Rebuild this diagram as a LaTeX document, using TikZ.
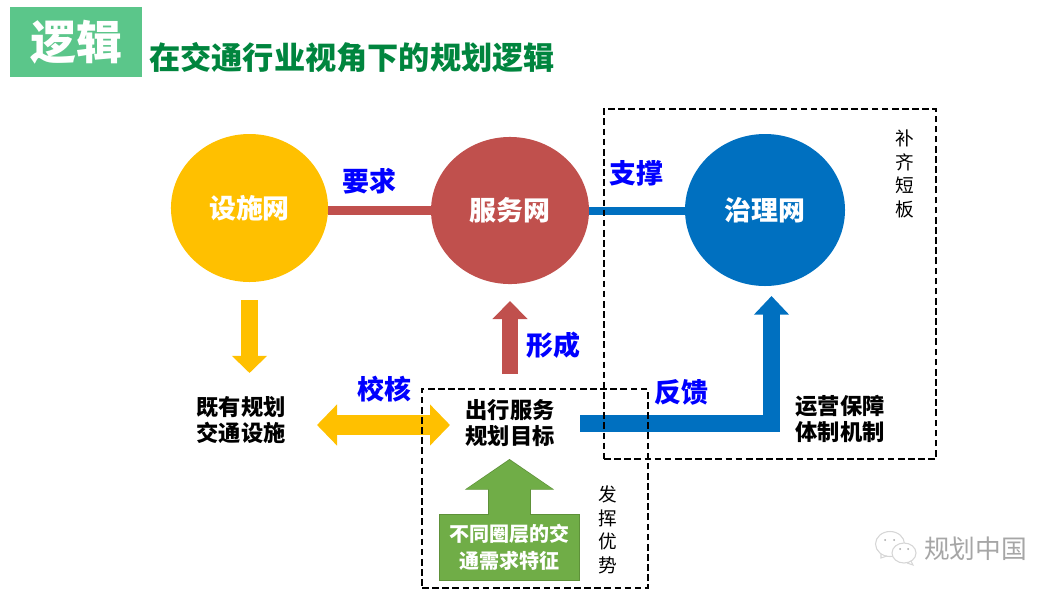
\documentclass[tikz,border=0pt]{standalone}
\usepackage{fontspec}
\setmainfont{Noto Sans CJK SC}
\usetikzlibrary{shapes.geometric,arrows.meta}
\usetikzlibrary{positioning}
\definecolor{tagGreen}{HTML}{5BC68A}
\definecolor{titleGreen}{HTML}{00853E}
\definecolor{netYellow}{HTML}{FFC000}
\definecolor{netRed}{HTML}{C0504D}
\definecolor{netBlue}{HTML}{0070C0}
\definecolor{baseGreen}{HTML}{70AD47}
\definecolor{baseEdge}{HTML}{5E9139}
\definecolor{markGray}{HTML}{A6A6A6}
\definecolor{iconGray}{HTML}{D6D6D6}

\begin{document}
\begin{tikzpicture}[x=.75pt,y=-.75pt]
 \useasboundingbox (0,0) rectangle (1062,597);

 \tikzstyle{net} = [ellipse, inner sep=0, text=white, font=\fontsize{20.2}{24}\selectfont\bfseries];
 \tikzstyle{say} = [text=blue, inner sep=0, font=\fontsize{20.2}{24}\selectfont\bfseries];
 \tikzstyle{txt} = [align=center, inner sep=0, font=\fontsize{16.7}{20}\selectfont\bfseries];
 \tikzstyle{side} = [align=center, inner sep=0, font=\fontsize{14}{17.6}\selectfont];
 \tikzstyle{frame} = [draw=black, line width=1.1pt, dash pattern=on 5pt off 2.6pt, inner sep=0];

 % header
 \node (tag) at (76,42) [fill=tagGreen, minimum width=99pt, minimum height=52.5pt, inner sep=0, text=white, font=\fontsize{34.5}{40}\selectfont\bfseries] {逻辑};
 \node (title) at (352,58) [inner sep=0, text=titleGreen, font=\fontsize{23.4}{28}\selectfont\bfseries] {在交通行业视角下的规划逻辑};

 % networks
 \node (facility) at (249.5,208) [net, fill=netYellow, minimum width=117.8pt, minimum height=111pt] {设施网};
 \node (service) at (510,210.5) [net, fill=netRed, minimum width=118.5pt, minimum height=110.3pt] {服务网};
 \node (governance) at (765,210) [net, fill=netBlue, minimum width=120pt, minimum height=114pt] {治理网};

 \draw [netRed, line width=6.8pt] (service.west) -- (service.west -| facility.east);
 \draw [netBlue, line width=6pt] (service.east) -- (service.east -| governance.west);

 % texts under the networks
 \node (existing) at (241,420) [txt] {既有规划\\交通设施};
 \node (target) at (510,423) [txt] {出行服务\\规划目标};
 \node (operate) at (840,419) [txt] {运营保障\\体制机制};

 % green base
 \node (demand) at (509.5,547) [fill=baseGreen, draw=baseEdge, line width=.6pt, minimum width=105.5pt, minimum height=49.5pt, align=center, inner sep=0, text=white, font=\fontsize{15}{20}\selectfont\bfseries] {不同圈层的交\\通需求特征};

 % block arrows
 \coordinate (downA) at (249.5,300);
 \coordinate (downB) at (249.5,373);
 \coordinate (upA) at (510,374);
 \coordinate (upB) at (510,301);
 \coordinate (checkA) at (317,425);
 \coordinate (checkB) at (450,425);
 \coordinate (backA) at (580,423.5);
 \coordinate (backB) at (771.5,296);
 \coordinate (baseB) at (509.5,459);

 \draw [netYellow, line width=12.6pt, -{Triangle[length=12.8pt,width=25.5pt]}] (downA) -- (downB);
 \draw [netRed, line width=12pt, -{Triangle[length=13.5pt,width=25.5pt]}] (upA) -- (upB);
 \draw [netYellow, line width=15pt, {Triangle[length=15pt,width=30pt]}-{Triangle[length=15pt,width=30pt]}] (checkA) -- (checkB);
 \draw [netBlue, line width=13pt, -{Triangle[length=14pt,width=25.5pt]}] (backA) -| (backB);
 \draw [baseEdge, line width=32pt, -{Triangle[length=23pt,width=66pt]}] (demand.north) -- (baseB);
 \draw [baseGreen, line width=31pt, shorten >=.8pt, -{Triangle[length=22pt,width=64pt]}] ([yshift=-1pt]demand.north) -- (baseB);

 % dashed frames
 \node (advantage) at (535,488.5) [frame, minimum width=169.5pt, minimum height=149.2pt] {};
 \node (shortfall) at (770,284) [frame, minimum width=249pt, minimum height=262.5pt] {};

 \node (supply) at (905,174) [side] {补\\齐\\短\\板};
 \node (play) at (608,530) [side] {发\\挥\\优\\势};

 % labels on the links
 \node (require) at (369,181) [say] {要求};
 \node (support) at (636,173) [say] {支撑};
 \node (form) at (553,345) [say] {形成};
 \node (check) at (384,389) [say] {校核};
 \node (feedback) at (681,392) [say] {反馈};

 % watermark
 \draw [iconGray, line width=.8pt, fill=white] (890,544) ellipse (14.5 and 12.5);
 \draw [iconGray, line width=.8pt] (881,554) -- (881,558) -- (887,556);
 \draw [iconGray, line width=.8pt, fill=white] (904,553) ellipse (12 and 10);
 \draw [iconGray, line width=.8pt] (911,561) -- (913,565) -- (907,563);
 \fill [markGray] (885,540) circle (1) (894,540) circle (1) (900,549) circle (1) (908,549) circle (1);
 \node (mark) at (975.5,549) [inner sep=0, text=markGray, font=\fontsize{19.3}{24}\selectfont] {规划中国};

\end{tikzpicture}
\end{document}
